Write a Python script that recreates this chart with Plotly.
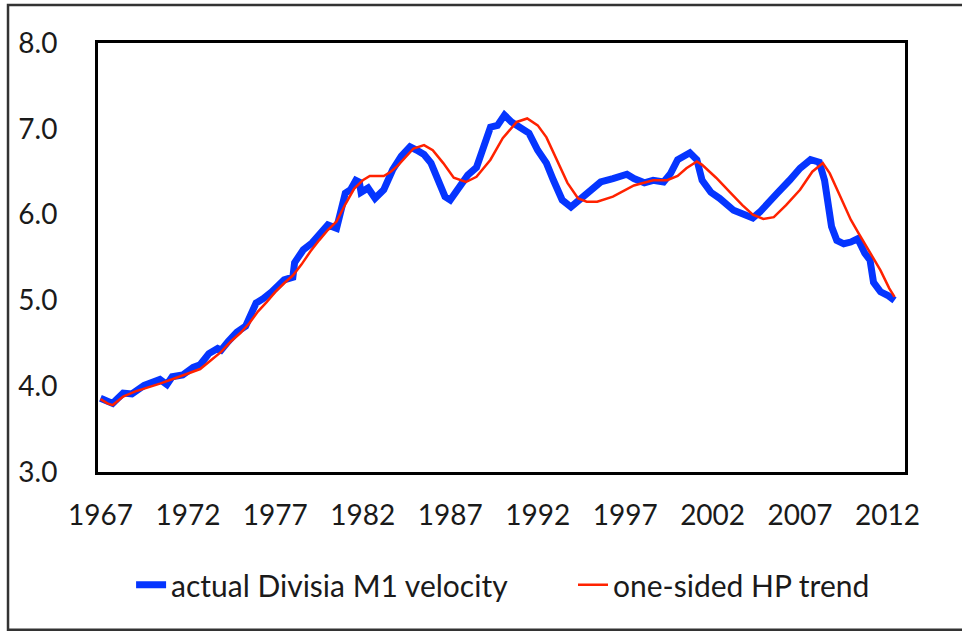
import plotly.graph_objects as go

# ---- data ----
actual_years = [1967.0, 1967.4, 1967.7, 1968.3, 1968.8, 1969.5, 1970.0, 1970.4, 1970.8, 1971.1,
                1971.7, 1972.3, 1972.7, 1973.2, 1973.7, 1973.9, 1974.3, 1974.8, 1975.3, 1975.6,
                1975.9, 1976.3, 1976.8, 1977.5, 1978.0, 1978.1, 1978.6, 1979.1, 1979.6, 1980.0,
                1980.5, 1980.8, 1981.0, 1981.3, 1981.6, 1981.8, 1981.9, 1982.3, 1982.7, 1983.2,
                1983.7, 1984.2, 1984.7, 1985.1, 1985.5, 1985.9, 1986.2, 1986.7, 1987.0, 1987.4,
                1988.0, 1988.5, 1988.9, 1989.3, 1989.7, 1990.1, 1990.5, 1991.0, 1991.5, 1992.0,
                1992.5, 1992.9, 1993.4, 1993.9, 1994.4, 1994.8, 1995.6, 1996.3, 1997.1, 1997.5,
                1998.1, 1998.6, 1999.2, 1999.6, 2000.0, 2000.7, 2001.1, 2001.4, 2001.9, 2002.4,
                2003.2, 2003.7, 2004.3, 2004.7, 2005.1, 2005.7, 2006.4, 2007.0, 2007.6, 2008.1,
                2008.4, 2008.6, 2008.8, 2009.1, 2009.5, 2009.9, 2010.3, 2010.7, 2011.0, 2011.2,
                2011.6, 2012.0, 2012.4]
actual_velocity = [3.86, 3.82, 3.80, 3.92, 3.91, 4.01, 4.05, 4.08, 4.02, 4.11,
                   4.13, 4.22, 4.25, 4.38, 4.44, 4.42, 4.52, 4.63, 4.70, 4.85,
                   4.97, 5.02, 5.10, 5.24, 5.27, 5.44, 5.59, 5.67, 5.79, 5.88,
                   5.84, 6.05, 6.25, 6.29, 6.40, 6.38, 6.26, 6.31, 6.19, 6.29,
                   6.52, 6.68, 6.79, 6.75, 6.70, 6.60, 6.44, 6.21, 6.17, 6.29,
                   6.46, 6.55, 6.79, 7.02, 7.04, 7.16, 7.08, 7.01, 6.95, 6.75,
                   6.60, 6.40, 6.17, 6.09, 6.17, 6.26, 6.38, 6.42, 6.47, 6.42,
                   6.37, 6.40, 6.38, 6.48, 6.64, 6.72, 6.64, 6.40, 6.26, 6.19,
                   6.05, 6.01, 5.96, 6.03, 6.13, 6.25, 6.40, 6.54, 6.64, 6.61,
                   6.40, 6.17, 5.86, 5.70, 5.66, 5.68, 5.72, 5.55, 5.47, 5.21,
                   5.10, 5.06, 5.00]

trend_years = [1967.0, 1967.4, 1967.7, 1968.3, 1969.0, 1970.4, 1971.5, 1972.0, 1972.7, 1973.3,
               1973.9, 1974.5, 1975.0, 1975.5, 1976.0, 1976.5, 1977.0, 1977.5, 1978.0, 1978.5,
               1979.0, 1979.5, 1980.0, 1980.5, 1981.0, 1981.5, 1982.0, 1982.4, 1983.2, 1983.6,
               1984.0, 1984.9, 1985.5, 1986.0, 1986.6, 1987.2, 1987.9, 1988.5, 1989.3, 1990.0,
               1990.8, 1991.4, 1992.0, 1992.5, 1993.1, 1993.7, 1994.3, 1994.8, 1995.4, 1996.3,
               1997.5, 1998.6, 1999.4, 2000.0, 2000.5, 2001.1, 2001.4, 2002.2, 2003.0, 2003.7,
               2004.3, 2004.9, 2005.5, 2006.2, 2007.0, 2007.7, 2008.3, 2008.7, 2009.3, 2009.9,
               2010.3, 2011.0, 2011.6, 2012.1, 2012.4]
hp_trend = [3.85, 3.80, 3.78, 3.88, 3.94, 4.03, 4.11, 4.15, 4.20, 4.30,
            4.40, 4.53, 4.62, 4.73, 4.87, 4.98, 5.10, 5.20, 5.29, 5.42,
            5.57, 5.70, 5.82, 5.92, 6.12, 6.30, 6.40, 6.45, 6.45, 6.50,
            6.57, 6.77, 6.81, 6.75, 6.60, 6.43, 6.38, 6.44, 6.64, 6.89,
            7.08, 7.12, 7.04, 6.90, 6.64, 6.37, 6.19, 6.15, 6.15, 6.21,
            6.34, 6.40, 6.40, 6.45, 6.54, 6.62, 6.58, 6.43, 6.26, 6.11,
            6.00, 5.95, 5.97, 6.11, 6.29, 6.50, 6.60, 6.48, 6.21, 5.94,
            5.80, 5.56, 5.35, 5.14, 5.04]

x_tick_years = [1967, 1972, 1977, 1982, 1987, 1992, 1997, 2002, 2007, 2012]
x_tick_labels = [str(y) for y in x_tick_years]
y_tick_values = [3.0, 4.0, 5.0, 6.0, 7.0, 8.0]
y_tick_labels = ["3.0", "4.0", "5.0", "6.0", "7.0", "8.0"]

FONT = "Lato"
TEXT = "#1a1a1a"

fig = go.Figure()
fig.add_trace(go.Scatter(
    x=actual_years, y=actual_velocity, mode="lines",
    name="actual Divisia M1 velocity", legend="legend",
    line=dict(color="#0535FF", width=7),
))
fig.add_trace(go.Scatter(
    x=trend_years, y=hp_trend, mode="lines",
    name="one-sided HP trend", legend="legend2",
    line=dict(color="#FF2200", width=2.5),
))

legend_common = dict(
    orientation="h", yanchor="middle", y=-0.263, xanchor="left",
    font=dict(family=FONT, size=30, color=TEXT),
    bgcolor="rgba(0,0,0,0)",
)

fig.update_layout(
    width=962, height=631,
    margin=dict(l=98, r=57, t=43, b=159, autoexpand=False),
    paper_bgcolor="white", plot_bgcolor="white",
    font=dict(family=FONT, size=28, color=TEXT),
    showlegend=True,
    legend=dict(x=0.041, **legend_common),
    legend2=dict(x=0.5886, **legend_common),
    xaxis=dict(
        range=[1966.86, 2013.0],
        tickmode="array", tickvals=x_tick_years, ticktext=x_tick_labels,
        showgrid=False, zeroline=False,
        showline=True, linecolor="black", linewidth=3, mirror=True,
        ticks="", ticklabelstandoff=16,
        tickfont=dict(family=FONT, size=28, color=TEXT),
    ),
    yaxis=dict(
        range=[3.0, 8.0],
        tickmode="array", tickvals=y_tick_values, ticktext=y_tick_labels,
        showgrid=False, zeroline=False,
        showline=True, linecolor="black", linewidth=3, mirror=True,
        ticks="", ticklabelstandoff=32,
        tickfont=dict(family=FONT, size=28, color=TEXT),
    ),
    shapes=[dict(
        type="rect", xref="paper", yref="paper",
        x0=-0.1115, x1=1.12, y0=-0.368, y1=1.0886,
        line=dict(color="#333333", width=2.5), layer="below",
    )],
)

fig.write_html(
    "out.html",
    config={"displayModeBar": False},
    post_script="document.body.style.margin='0';document.body.style.overflow='hidden';",
)
